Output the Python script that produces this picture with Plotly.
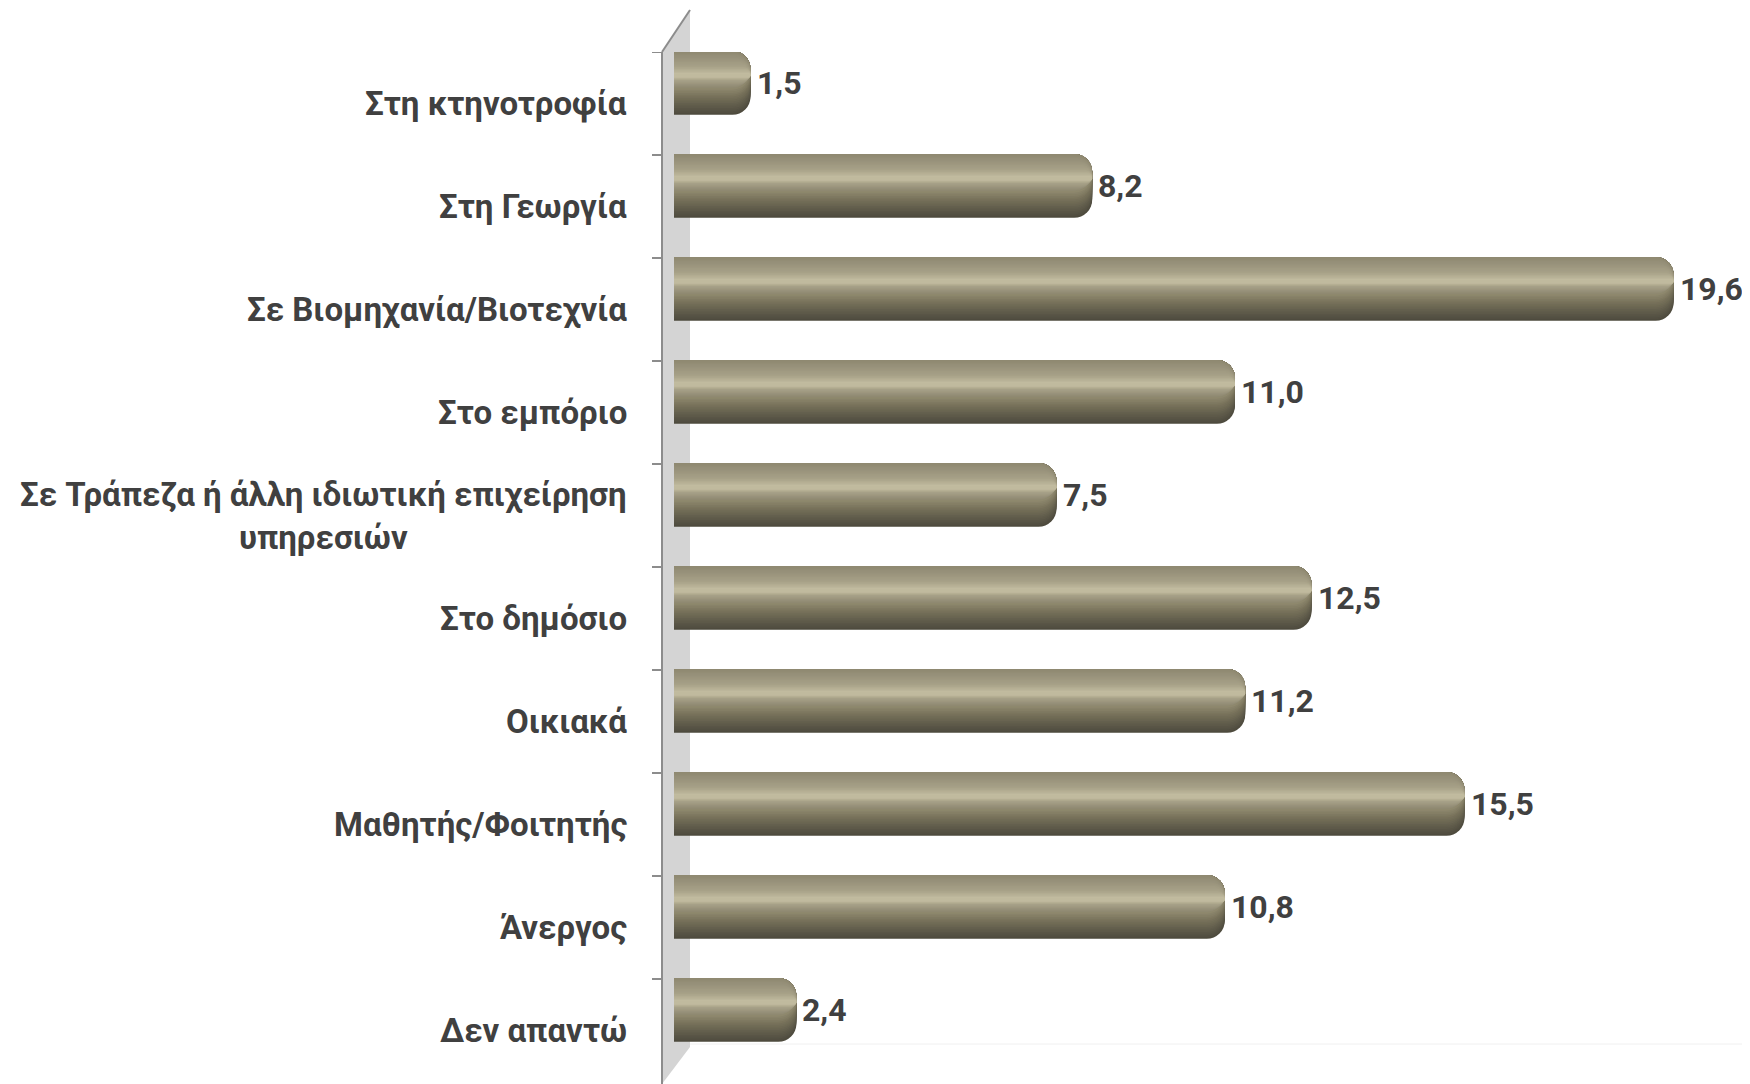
import plotly.graph_objects as go

categories = [
    "Στη κτηνοτροφία",
    "Στη Γεωργία",
    "Σε Βιομηχανία/Βιοτεχνία",
    "Στο εμπόριο",
    "Σε Τράπεζα ή άλλη ιδιωτική επιχείρηση<br>υπηρεσιών",
    "Στο δημόσιο",
    "Οικιακά",
    "Μαθητής/Φοιτητής",
    "Άνεργος",
    "Δεν απαντώ",
]
values = [1.5, 8.2, 19.6, 11.0, 7.5, 12.5, 11.2, 15.5, 10.8, 2.4]
value_labels = [f"{v:.1f}".replace(".", ",") for v in values]

OFF = 8                      # default body margin of the html page
W, H = 1750 - OFF, 1084 - OFF
ML, MR, MT, MB = 674 - OFF, 0, 52 - OFF, 0
PW, PH = W - ML - MR, H - MT - MB
CAT_PX = 103                 # pixel height of one category band
PX_PER_UNIT = 51.0
FONT = "Roboto"
FSIZE = 33
VSIZE = 32
TXT = "#404040"

BAR_W = 0.62
BAR_SHIFT = -0.2


def hex2rgb(h):
    h = h.lstrip("#")
    return tuple(int(h[i:i + 2], 16) for i in (0, 2, 4))


stops = [(0.00, "#8E8870"), (0.10, "#97917A"), (0.25, "#A8A288"), (0.36, "#C2BCA0"),
         (0.42, "#BCB69A"), (0.50, "#A29C81"), (0.60, "#8C866C"), (0.72, "#767059"),
         (0.85, "#615D4C"), (1.00, "#4C493D")]


def shade(t):
    t = min(max(t, 0.0), 1.0)
    for (t0, c0), (t1, c1) in zip(stops[:-1], stops[1:]):
        if t0 <= t <= t1:
            a = (t - t0) / (t1 - t0)
            r0, r1 = hex2rgb(c0), hex2rgb(c1)
            return "rgb(%d,%d,%d)" % tuple(round(x0 + (x1 - x0) * a) for x0, x1 in zip(r0, r1))
    return stops[-1][1]


# nested shading layers (top fraction, bottom fraction, colour)
TP = 0.39      # highlight position
B0 = 0.58      # depth on lower side matching the top-edge brightness
layers = []
N1 = 16
for k in range(N1):
    b = 1.0 - (1.0 - B0) * k / N1
    b_next = 1.0 - (1.0 - B0) * (k + 1) / N1
    layers.append((0.0, b, shade((b + b_next) / 2)))
N2 = 18
for k in range(N2):
    a = TP * k / N2
    b = B0 - (B0 - TP) * k / N2
    a_next = TP * (k + 1) / N2
    layers.append((a, max(b, a + 0.03), shade((a + a_next) / 2)))

fig = go.Figure()
bar_top = BAR_SHIFT - BAR_W / 2
for f0, f1, col in layers:
    h_px = (f1 - f0) * BAR_W * CAT_PX
    fig.add_trace(go.Bar(
        y=categories, x=values, orientation="h",
        offset=bar_top + f0 * BAR_W, width=(f1 - f0) * BAR_W,
        marker=dict(color=col, line=dict(width=0), cornerradius=min(18, h_px / 2)),
        hoverinfo="skip", showlegend=False,
    ))


def px_x(px):
    return (px - OFF - ML) / PW


def px_y(py):
    return (H - MB - (py - OFF)) / PH


shapes = []
x0, x1 = px_x(662), px_x(690)
shapes.append(dict(
    type="path", xref="paper", yref="paper",
    path=f"M {x0},{px_y(52)} L {x1},{px_y(10)} L {x1},{px_y(1047)} L {x0},{px_y(1084)} Z",
    fillcolor="#D4D4D4", line=dict(width=0), layer="below"))
shapes.append(dict(type="line", xref="paper", yref="paper",
                   x0=x0, x1=x0, y0=px_y(52), y1=px_y(1084),
                   line=dict(color="#8C8C8C", width=2)))
shapes.append(dict(type="line", xref="paper", yref="paper",
                   x0=x0, x1=x1, y0=px_y(52), y1=px_y(10),
                   line=dict(color="#8C8C8C", width=2)))
shapes.append(dict(type="line", xref="paper", yref="paper",
                   x0=x1, x1=1, y0=px_y(1044), y1=px_y(1044),
                   line=dict(color="#F0F0F0", width=1), layer="below"))
for k in range(len(categories)):
    shapes.append(dict(type="line", xref="paper", yref="y",
                       x0=px_x(652), x1=x0, y0=k - 0.5, y1=k - 0.5,
                       line=dict(color="#8C8C8C", width=2)))

annotations = []
for c in categories:
    annotations.append(dict(
        xref="paper", yref="y", x=px_x(629), y=c, xanchor="right", yanchor="middle",
        text=c, showarrow=False, align="center",
        font=dict(family=FONT, size=FSIZE, color=TXT, weight="bold")))
for c, v, t in zip(categories, values, value_labels):
    annotations.append(dict(
        xref="x", yref="y", x=v, y=c, xanchor="left", yanchor="middle",
        xshift=4, yshift=-BAR_SHIFT * CAT_PX,
        text=t, showarrow=False,
        font=dict(family=FONT, size=VSIZE, color=TXT, weight="bold")))

fig.update_layout(
    width=W, height=H,
    margin=dict(l=ML, r=MR, t=MT, b=MB, pad=0),
    paper_bgcolor="white", plot_bgcolor="white",
    barmode="overlay",
    shapes=shapes, annotations=annotations,
    xaxis=dict(range=[0, PW / PX_PER_UNIT], visible=False, fixedrange=True),
    yaxis=dict(range=[-0.5 + PH / CAT_PX, -0.5], showticklabels=False, showgrid=False,
               zeroline=False, showline=False, ticks=""),
    font=dict(family=FONT),
)
fig.write_html("out.html")
